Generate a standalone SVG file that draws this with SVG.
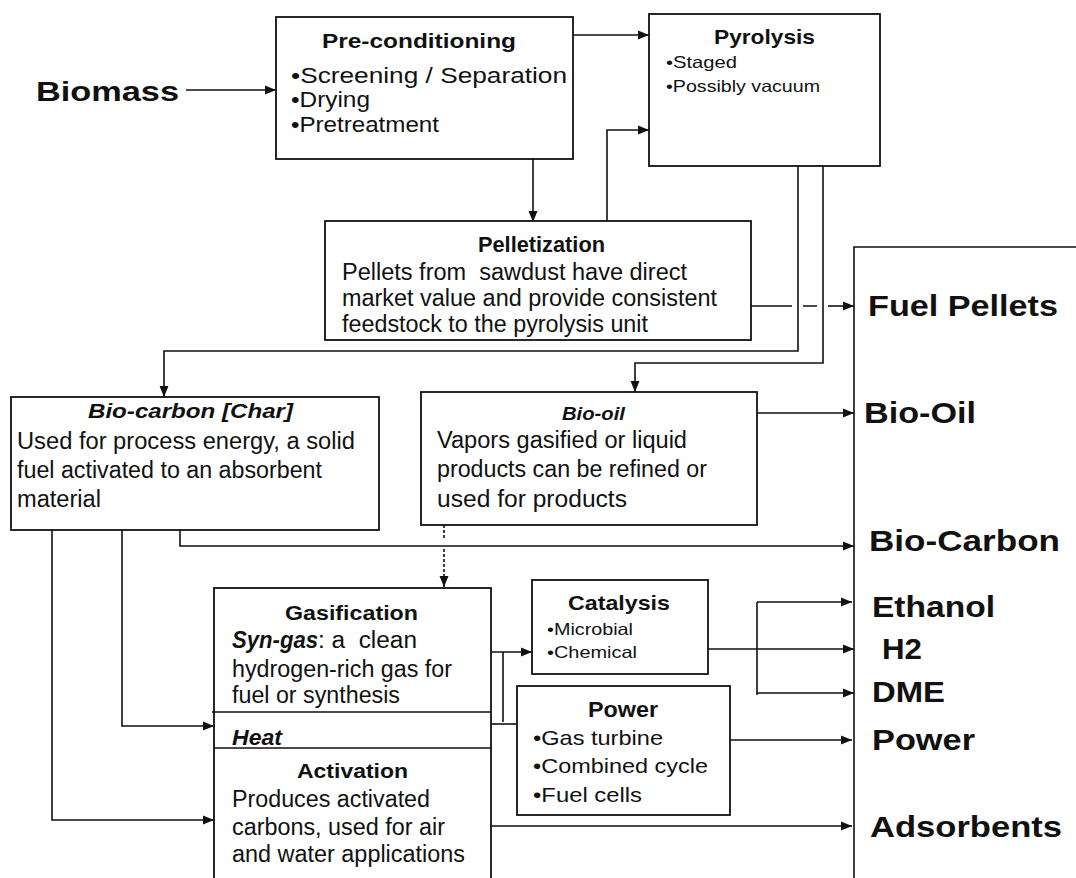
<svg xmlns="http://www.w3.org/2000/svg" width="1076" height="878" viewBox="0 0 1076 878">
<defs>
<marker id="ah" markerUnits="userSpaceOnUse" markerWidth="12" markerHeight="10" refX="11" refY="5" orient="auto-start-reverse">
<path d="M0,0.5 L11,5 L0,9.5 z" fill="#111"/>
</marker>
<style>
text{font-family:"Liberation Sans",Arial,sans-serif;fill:#111;}
.b{font-weight:bold;}
.bi{font-weight:bold;font-style:italic;}
.t{font-size:21px;}
.s{font-size:22px;}
.m{font-size:23px;}
.xs{font-size:16.5px;}
.lab{font-size:30px;font-weight:bold;}
.box{fill:#fff;stroke:#111;stroke-width:1.8;}
.c{fill:none;stroke:#111;stroke-width:1.6;}
.a{marker-end:url(#ah);}
.pre{white-space:pre;}
</style>
</defs>
<rect width="1076" height="878" fill="#fff"/>

<g id="connectors">
<path class="c a" d="M186,90 H276"/>
<path class="c a" d="M573,35 H649"/>
<path class="c a" d="M533,159 V222"/>
<path class="c a" d="M607,221 V130 H649"/>
<path class="c a" d="M798,166 V351 H164 V397"/>
<path class="c a" d="M823,166 V363 H635 V392"/>
<path class="c" d="M751,306 H792 M803,306 H817"/>
<path class="c a" d="M828,306 H854"/>
<path class="c" d="M854,878 V247 H1076"/>
<path class="c a" d="M741,413 H854"/>
<path class="c a" d="M180,530 V546 H854"/>
<path class="c" d="M444,525 V538" stroke-dasharray="3,2"/>
<path class="c a" d="M444,549 V587" stroke-dasharray="3,2"/>
<path class="c a" d="M122,530 V726 H214"/>
<path class="c a" d="M52,530 V820 H214"/>
<path class="c a" d="M328,713 V747" style="marker-start:url(#ah)"/>
<path class="c a" d="M487,652 H532"/>
<path class="c" d="M503,652 V722"/>
<path class="c" d="M491,724 H517"/>
<path class="c a" d="M705,649 H854"/>
<path class="c" d="M757,602 V695"/>
<path class="c a" d="M757,602 H852"/>
<path class="c a" d="M757,693 H854"/>
<path class="c a" d="M730,740 H852"/>
<path class="c a" d="M491,826 H852"/>
</g>

<g id="biomass">
<text class="b" x="36" y="101" font-size="28" textLength="143" lengthAdjust="spacingAndGlyphs">Biomass</text>
</g>

<g id="preconditioning">
<rect class="box" x="276" y="17" width="297" height="142"/>
<text class="b t" x="322" y="48" textLength="194" lengthAdjust="spacingAndGlyphs">Pre-conditioning</text>
<text class="s" x="291" y="83" textLength="276" lengthAdjust="spacingAndGlyphs">•Screening / Separation</text>
<text class="s" x="291" y="107" textLength="79" lengthAdjust="spacingAndGlyphs">•Drying</text>
<text class="s" x="291" y="132" textLength="148" lengthAdjust="spacingAndGlyphs">•Pretreatment</text>
</g>

<g id="pyrolysis">
<rect class="box" x="649" y="14" width="231" height="152"/>
<text class="b t" x="714" y="44" textLength="101" lengthAdjust="spacingAndGlyphs">Pyrolysis</text>
<text class="xs" x="666" y="68" textLength="71" lengthAdjust="spacingAndGlyphs">•Staged</text>
<text class="xs" x="666" y="92" textLength="154" lengthAdjust="spacingAndGlyphs">•Possibly vacuum</text>
</g>

<g id="pelletization">
<rect class="box" x="325" y="221" width="426" height="119"/>
<text class="b s" x="478" y="252" textLength="127" lengthAdjust="spacingAndGlyphs">Pelletization</text>
<text class="m pre" x="342" y="280" textLength="345" lengthAdjust="spacingAndGlyphs">Pellets from  sawdust have direct</text>
<text class="m" x="342" y="306" textLength="375" lengthAdjust="spacingAndGlyphs">market value and provide consistent</text>
<text class="m" x="342" y="332" textLength="306" lengthAdjust="spacingAndGlyphs">feedstock to the pyrolysis unit</text>
</g>

<g id="biocarbon">
<rect class="box" x="11" y="397" width="368" height="133"/>
<text class="bi t" x="88" y="418" textLength="205" lengthAdjust="spacingAndGlyphs">Bio-carbon [Char]</text>
<text class="m" x="17" y="449" textLength="338" lengthAdjust="spacingAndGlyphs">Used for process energy, a solid</text>
<text class="m" x="17" y="478" textLength="305" lengthAdjust="spacingAndGlyphs">fuel activated to an absorbent</text>
<text class="m" x="17" y="507" textLength="84" lengthAdjust="spacingAndGlyphs">material</text>
</g>

<g id="biooil">
<rect class="box" x="421" y="392" width="336" height="133"/>
<text class="bi" x="562" y="420" font-size="19" textLength="63" lengthAdjust="spacingAndGlyphs">Bio-oil</text>
<text class="m" x="437" y="448" textLength="250" lengthAdjust="spacingAndGlyphs">Vapors gasified or liquid</text>
<text class="m" x="437" y="477" textLength="270" lengthAdjust="spacingAndGlyphs">products can be refined or</text>
<text class="m" x="437" y="507" textLength="190" lengthAdjust="spacingAndGlyphs">used for products</text>
</g>

<g id="gasification">
<rect class="box" x="214" y="588" width="277" height="300"/>
<path class="c" d="M212,712 H491 M214,748 H491"/>
<text class="b t" x="285" y="620" textLength="133" lengthAdjust="spacingAndGlyphs">Gasification</text>
<text class="bi m" x="232" y="648" textLength="86" lengthAdjust="spacingAndGlyphs">Syn-gas</text>
<text class="m pre" x="318" y="648" textLength="99" lengthAdjust="spacingAndGlyphs">: a  clean</text>
<text class="m" x="232" y="677" textLength="220" lengthAdjust="spacingAndGlyphs">hydrogen-rich gas for</text>
<text class="m" x="232" y="703" textLength="168" lengthAdjust="spacingAndGlyphs">fuel or synthesis</text>
<text class="bi s" x="232" y="745" textLength="50" lengthAdjust="spacingAndGlyphs">Heat</text>
</g>

<g id="activation">
<text class="b t" x="297" y="778" textLength="111" lengthAdjust="spacingAndGlyphs">Activation</text>
<text class="m" x="232" y="807" textLength="198" lengthAdjust="spacingAndGlyphs">Produces activated</text>
<text class="m" x="232" y="835" textLength="213" lengthAdjust="spacingAndGlyphs">carbons, used for air</text>
<text class="m" x="232" y="862" textLength="233" lengthAdjust="spacingAndGlyphs">and water applications</text>
</g>

<g id="catalysis">
<rect class="box" x="532" y="580" width="176" height="94"/>
<text class="b t" x="568" y="610" textLength="102" lengthAdjust="spacingAndGlyphs">Catalysis</text>
<text class="xs" x="547" y="635" textLength="86" lengthAdjust="spacingAndGlyphs">•Microbial</text>
<text class="xs" x="547" y="658" textLength="90" lengthAdjust="spacingAndGlyphs">•Chemical</text>
</g>

<g id="power">
<rect class="box" x="517" y="686" width="213" height="129"/>
<text class="b s" x="588" y="717" textLength="70" lengthAdjust="spacingAndGlyphs">Power</text>
<text class="t" x="533" y="745" textLength="130" lengthAdjust="spacingAndGlyphs">•Gas turbine</text>
<text class="t" x="533" y="773" textLength="175" lengthAdjust="spacingAndGlyphs">•Combined cycle</text>
<text class="t" x="533" y="802" textLength="109" lengthAdjust="spacingAndGlyphs">•Fuel cells</text>
</g>

<g id="outputs">
<text class="lab" x="868" y="316" textLength="190" lengthAdjust="spacingAndGlyphs">Fuel Pellets</text>
<text class="lab" x="864" y="423" textLength="112" lengthAdjust="spacingAndGlyphs">Bio-Oil</text>
<text class="lab" x="869" y="551" textLength="191" lengthAdjust="spacingAndGlyphs">Bio-Carbon</text>
<text class="lab" x="872" y="617" textLength="123" lengthAdjust="spacingAndGlyphs">Ethanol</text>
<text class="lab" x="882" y="659" textLength="40" lengthAdjust="spacingAndGlyphs">H2</text>
<text class="lab" x="872" y="702" textLength="73" lengthAdjust="spacingAndGlyphs">DME</text>
<text class="lab" x="872" y="750" textLength="103" lengthAdjust="spacingAndGlyphs">Power</text>
<text class="lab" x="870" y="837" textLength="192" lengthAdjust="spacingAndGlyphs">Adsorbents</text>
</g>
</svg>
